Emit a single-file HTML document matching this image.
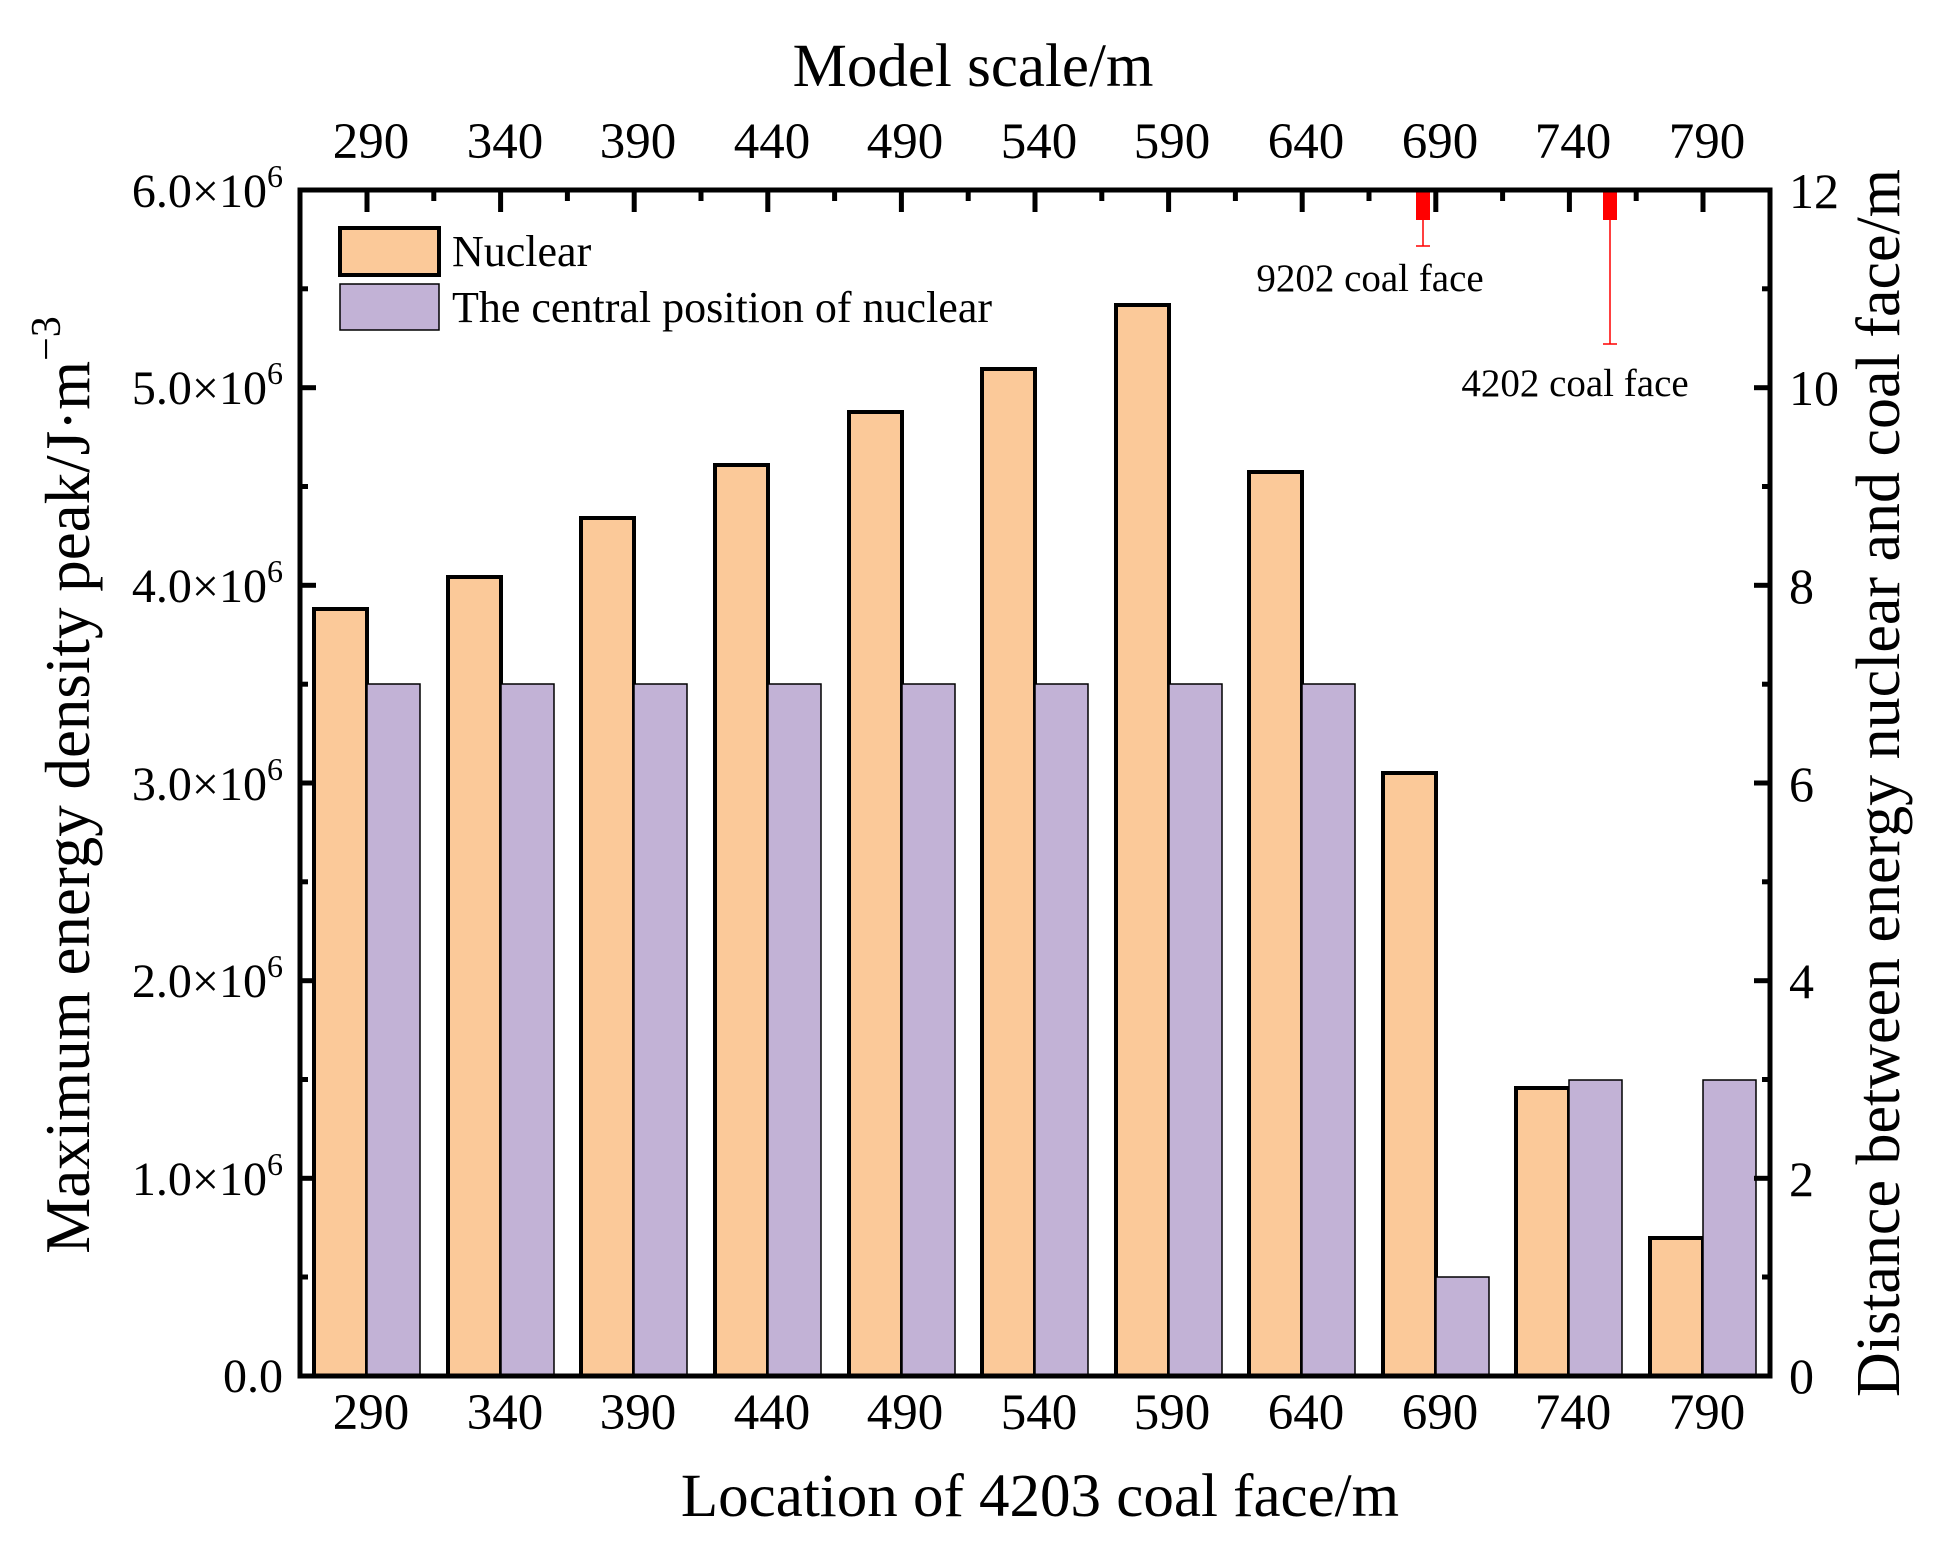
<!DOCTYPE html>
<html><head><meta charset="utf-8"><style>
html,body{margin:0;padding:0;background:#fff;}
svg{display:block;font-family:"Liberation Serif",serif;}
</style></head><body>
<svg width="1945" height="1560" viewBox="0 0 1945 1560" xmlns="http://www.w3.org/2000/svg">
<g stroke="#000">
<rect x="314" y="609" width="53" height="767" fill="#fbc999" stroke-width="4"/>
<rect x="448" y="577" width="53" height="799" fill="#fbc999" stroke-width="4"/>
<rect x="581" y="518" width="53" height="858" fill="#fbc999" stroke-width="4"/>
<rect x="715" y="465" width="53" height="911" fill="#fbc999" stroke-width="4"/>
<rect x="849" y="412" width="53" height="964" fill="#fbc999" stroke-width="4"/>
<rect x="982" y="369" width="53" height="1007" fill="#fbc999" stroke-width="4"/>
<rect x="1116" y="305" width="53" height="1071" fill="#fbc999" stroke-width="4"/>
<rect x="1249" y="472" width="53" height="904" fill="#fbc999" stroke-width="4"/>
<rect x="1383" y="773" width="53" height="603" fill="#fbc999" stroke-width="4"/>
<rect x="1516" y="1088" width="53" height="288" fill="#fbc999" stroke-width="4"/>
<rect x="1650" y="1238" width="53" height="138" fill="#fbc999" stroke-width="4"/>
<rect x="367" y="684" width="53" height="692" fill="#c2b2d6" stroke-width="1.5"/>
<rect x="501" y="684" width="53" height="692" fill="#c2b2d6" stroke-width="1.5"/>
<rect x="634" y="684" width="53" height="692" fill="#c2b2d6" stroke-width="1.5"/>
<rect x="768" y="684" width="53" height="692" fill="#c2b2d6" stroke-width="1.5"/>
<rect x="902" y="684" width="53" height="692" fill="#c2b2d6" stroke-width="1.5"/>
<rect x="1035" y="684" width="53" height="692" fill="#c2b2d6" stroke-width="1.5"/>
<rect x="1169" y="684" width="53" height="692" fill="#c2b2d6" stroke-width="1.5"/>
<rect x="1302" y="684" width="53" height="692" fill="#c2b2d6" stroke-width="1.5"/>
<rect x="1436" y="1277" width="53" height="99" fill="#c2b2d6" stroke-width="1.5"/>
<rect x="1569" y="1080" width="53" height="296" fill="#c2b2d6" stroke-width="1.5"/>
<rect x="1703" y="1080" width="53" height="296" fill="#c2b2d6" stroke-width="1.5"/>
</g>
<g fill="#ff0000" stroke="#ff0000" stroke-width="1.5">
<rect x="1416" y="190" width="14" height="30" stroke="none"/>
<line x1="1423" y1="220" x2="1423" y2="246"/><line x1="1416" y1="246" x2="1430" y2="246"/>
<rect x="1603" y="190" width="14" height="30" stroke="none"/>
<line x1="1610" y1="220" x2="1610" y2="344"/><line x1="1603" y1="344" x2="1617" y2="344"/>
</g>
<g font-size="39" fill="#000">
<text x="1370" y="291" text-anchor="middle">9202 coal face</text>
<text x="1575" y="396" text-anchor="middle">4202 coal face</text>
</g>
<rect x="300" y="190" width="1470" height="1186" fill="none" stroke="#000" stroke-width="5"/>
<g stroke="#000" stroke-width="5">
<line x1="300" y1="1178.3" x2="316" y2="1178.3"/><line x1="300" y1="980.7" x2="316" y2="980.7"/>
<line x1="300" y1="783" x2="316" y2="783"/><line x1="300" y1="585.3" x2="316" y2="585.3"/>
<line x1="300" y1="387.7" x2="316" y2="387.7"/>
<line x1="300" y1="1277" x2="308" y2="1277"/><line x1="300" y1="1079.5" x2="308" y2="1079.5"/>
<line x1="300" y1="881.8" x2="308" y2="881.8"/><line x1="300" y1="684.2" x2="308" y2="684.2"/>
<line x1="300" y1="486.5" x2="308" y2="486.5"/><line x1="300" y1="288.8" x2="308" y2="288.8"/>
<line x1="1770" y1="1178.3" x2="1754" y2="1178.3"/><line x1="1770" y1="980.7" x2="1754" y2="980.7"/>
<line x1="1770" y1="783" x2="1754" y2="783"/><line x1="1770" y1="585.3" x2="1754" y2="585.3"/>
<line x1="1770" y1="387.7" x2="1754" y2="387.7"/>
<line x1="1770" y1="1277" x2="1762" y2="1277"/><line x1="1770" y1="1079.5" x2="1762" y2="1079.5"/>
<line x1="1770" y1="881.8" x2="1762" y2="881.8"/><line x1="1770" y1="684.2" x2="1762" y2="684.2"/>
<line x1="1770" y1="486.5" x2="1762" y2="486.5"/><line x1="1770" y1="288.8" x2="1762" y2="288.8"/>
<line x1="367" y1="190" x2="367" y2="212"/><line x1="500.6" y1="190" x2="500.6" y2="212"/>
<line x1="634.2" y1="190" x2="634.2" y2="212"/><line x1="767.8" y1="190" x2="767.8" y2="212"/>
<line x1="901.4" y1="190" x2="901.4" y2="212"/><line x1="1035" y1="190" x2="1035" y2="212"/>
<line x1="1168.6" y1="190" x2="1168.6" y2="212"/><line x1="1302.2" y1="190" x2="1302.2" y2="212"/>
<line x1="1435.8" y1="190" x2="1435.8" y2="212"/><line x1="1569.4" y1="190" x2="1569.4" y2="212"/>
<line x1="1703" y1="190" x2="1703" y2="212"/>
<line x1="433.8" y1="190" x2="433.8" y2="201"/><line x1="567.4" y1="190" x2="567.4" y2="201"/>
<line x1="701" y1="190" x2="701" y2="201"/><line x1="834.6" y1="190" x2="834.6" y2="201"/>
<line x1="968.2" y1="190" x2="968.2" y2="201"/><line x1="1101.8" y1="190" x2="1101.8" y2="201"/>
<line x1="1235.4" y1="190" x2="1235.4" y2="201"/><line x1="1369" y1="190" x2="1369" y2="201"/>
<line x1="1502.6" y1="190" x2="1502.6" y2="201"/><line x1="1636.2" y1="190" x2="1636.2" y2="201"/>
</g>
<rect x="340" y="228" width="99" height="47" fill="#fbc999" stroke="#000" stroke-width="4"/>
<rect x="340" y="284" width="99" height="46" fill="#c2b2d6" stroke="#000" stroke-width="1.5"/>
<g font-size="44" fill="#000">
<text x="452" y="266">Nuclear</text>
<text x="452" y="322">The central position of nuclear</text>
</g>
<g font-size="48" fill="#000" text-anchor="end">
<text x="283" y="1392">0.0</text>
<text x="283" y="1195">1.0×10<tspan font-size="32" dy="-20">6</tspan></text>
<text x="283" y="997">2.0×10<tspan font-size="32" dy="-20">6</tspan></text>
<text x="283" y="800">3.0×10<tspan font-size="32" dy="-20">6</tspan></text>
<text x="283" y="602">4.0×10<tspan font-size="32" dy="-20">6</tspan></text>
<text x="283" y="404">5.0×10<tspan font-size="32" dy="-20">6</tspan></text>
<text x="283" y="207">6.0×10<tspan font-size="32" dy="-20">6</tspan></text>
</g>
<g font-size="50" fill="#000">
<text x="1789" y="1393">0</text>
<text x="1789" y="1196">2</text>
<text x="1789" y="998">4</text>
<text x="1789" y="801">6</text>
<text x="1789" y="603">8</text>
<text x="1789" y="405">10</text>
<text x="1789" y="208">12</text>
</g>
<g font-size="51" fill="#000" text-anchor="middle">
<text x="371" y="158">290</text><text x="505" y="158">340</text><text x="638" y="158">390</text>
<text x="772" y="158">440</text><text x="905" y="158">490</text><text x="1039" y="158">540</text>
<text x="1172" y="158">590</text><text x="1306" y="158">640</text><text x="1440" y="158">690</text>
<text x="1573" y="158">740</text><text x="1707" y="158">790</text>
<text x="371" y="1429">290</text><text x="505" y="1429">340</text><text x="638" y="1429">390</text>
<text x="772" y="1429">440</text><text x="905" y="1429">490</text><text x="1039" y="1429">540</text>
<text x="1172" y="1429">590</text><text x="1306" y="1429">640</text><text x="1440" y="1429">690</text>
<text x="1573" y="1429">740</text><text x="1707" y="1429">790</text>
</g>
<g font-size="61" fill="#000" text-anchor="middle">
<text x="973" y="86">Model scale/m</text>
<text x="1040" y="1516">Location of 4203 coal face/m</text>
<text font-size="63" transform="translate(89,785) rotate(-90)">Maximum energy density peak/J·m<tspan font-size="42" dy="-29">−3</tspan></text>
<text font-size="62" transform="translate(1899,783) rotate(-90)">Distance between energy nuclear and coal face/m</text>
</g>
</svg>
</body></html>
